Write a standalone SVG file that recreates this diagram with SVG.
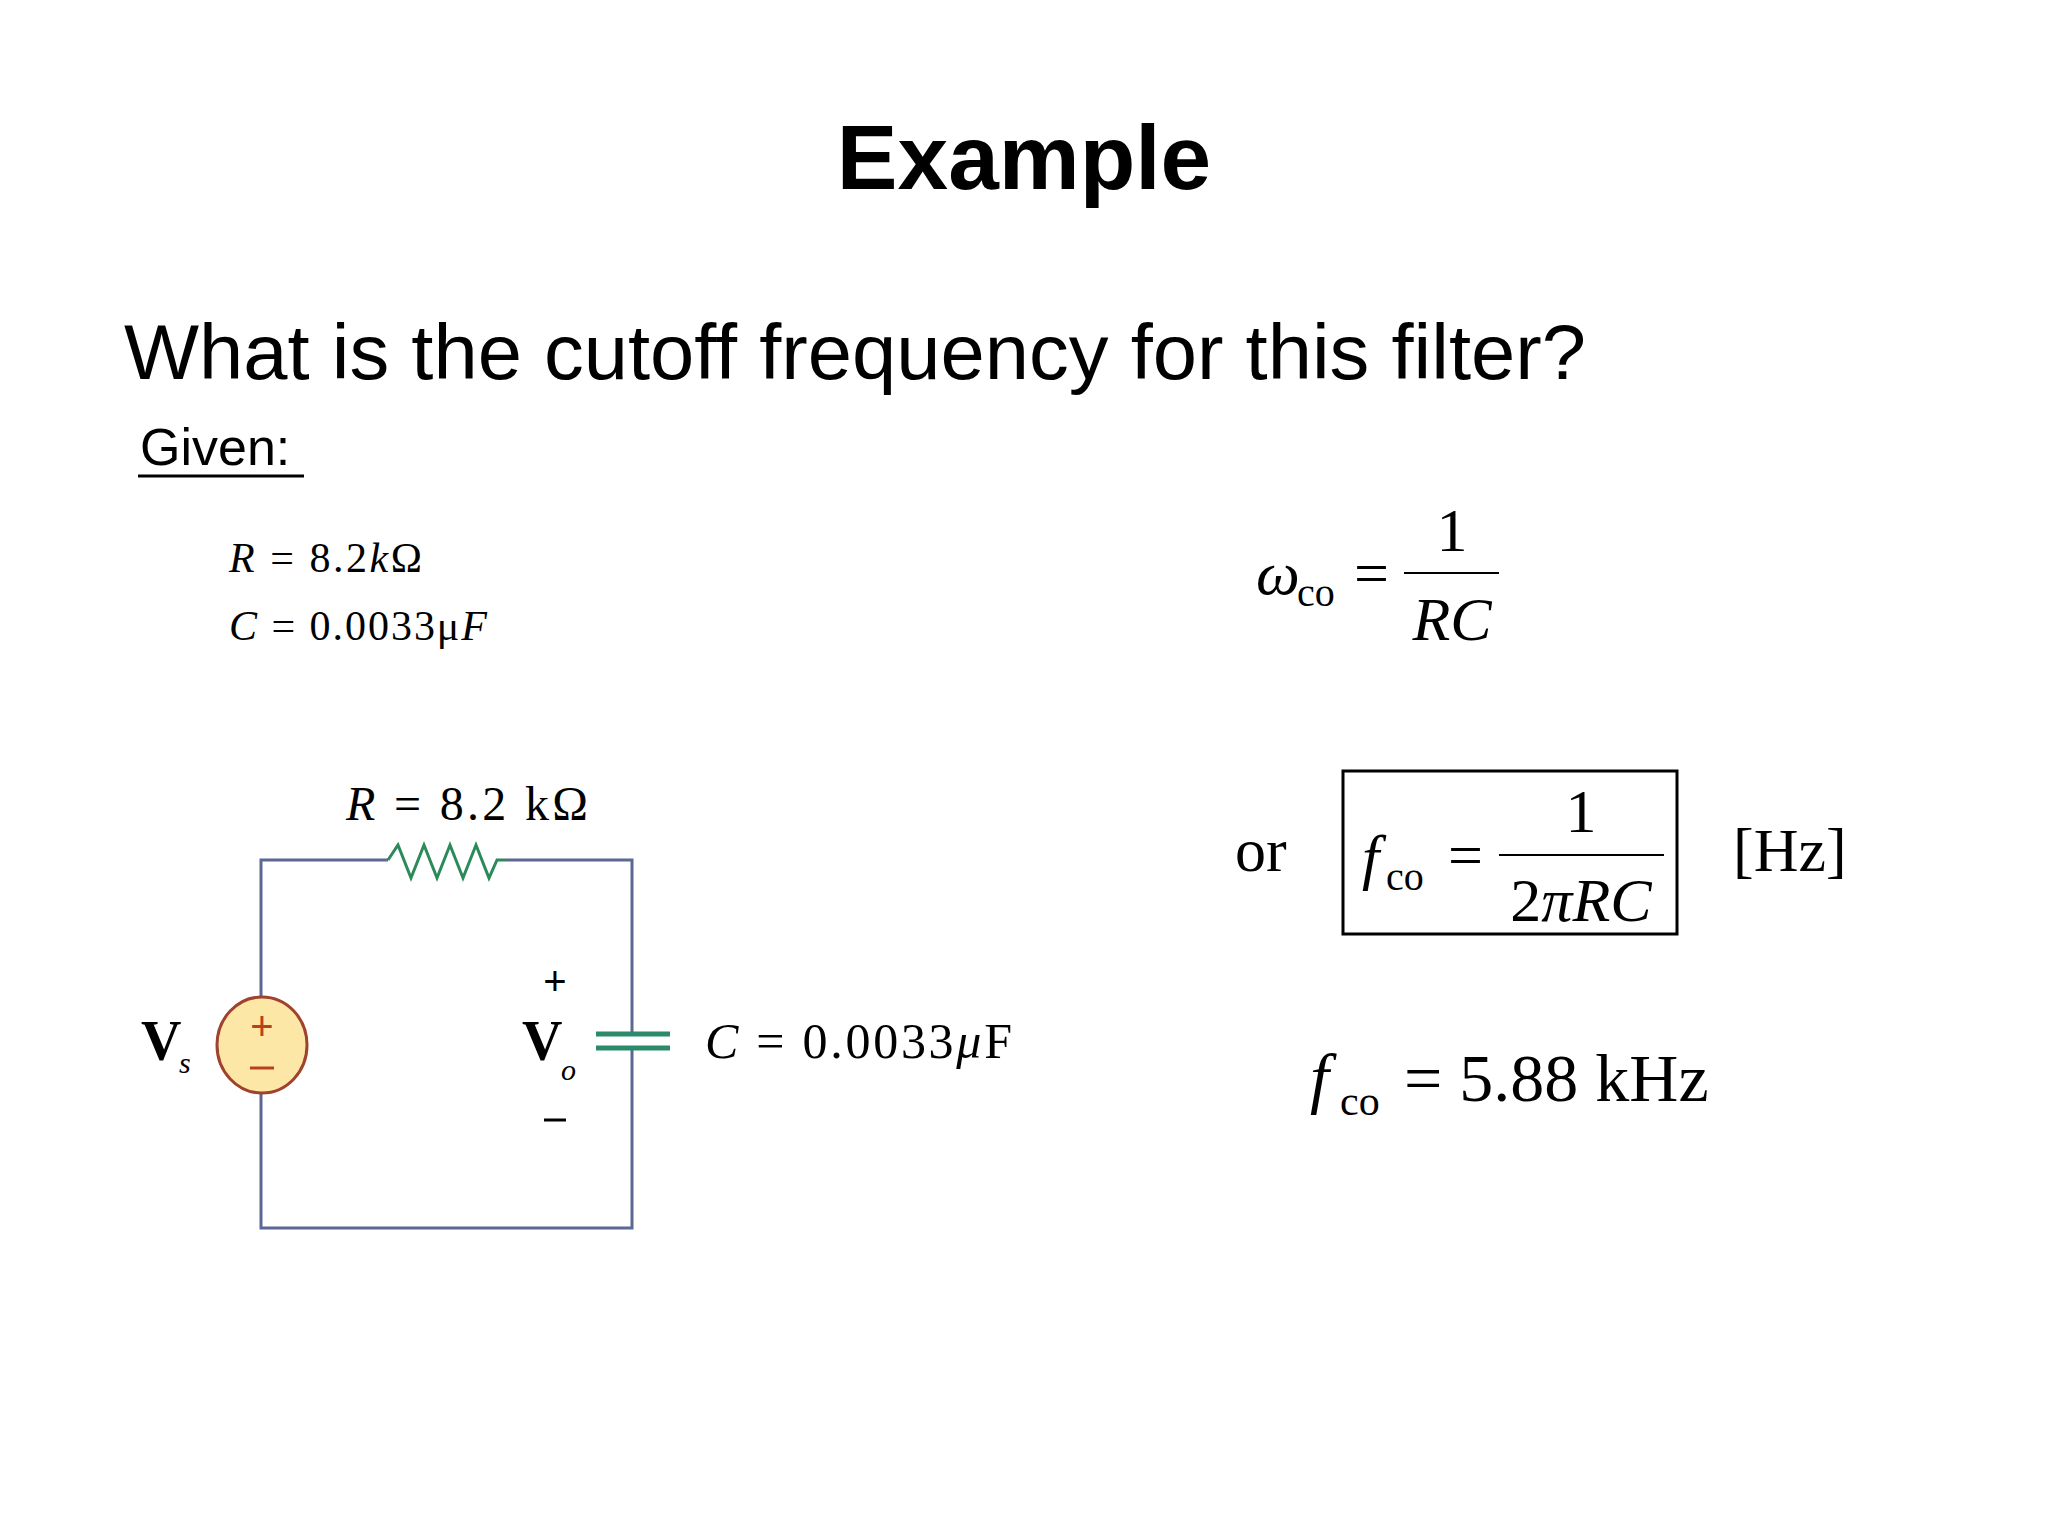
<svg xmlns="http://www.w3.org/2000/svg" width="2048" height="1536" viewBox="0 0 2048 1536">
<style>
.s{font-family:"Liberation Sans",Arial,sans-serif;fill:#000}
.m{font-family:"Liberation Serif","Times New Roman",serif;fill:#000}
.i{font-style:italic}
.w{stroke:#5b6896;stroke-width:3;fill:none}
</style>
<rect width="2048" height="1536" fill="#fff"/>
<text class="s" x="1024" y="189" font-size="91" font-weight="bold" text-anchor="middle">Example</text>
<text class="s" x="124" y="379" font-size="78" textLength="1462" lengthAdjust="spacingAndGlyphs">What is the cutoff frequency for this filter?</text>
<text class="s" x="140" y="465" font-size="52">Given:</text>
<line x1="138" y1="476" x2="304" y2="476" stroke="#000" stroke-width="3"/>
<text class="m" x="229" y="572" font-size="42" textLength="193"><tspan class="i">R</tspan> = 8.2<tspan class="i">k</tspan>Ω</text>
<text class="m" x="229" y="640" font-size="42" textLength="258"><tspan class="i">C</tspan> = 0.0033μ<tspan class="i">F</tspan></text>
<g id="eq1">
<text class="m i" x="1256" y="594" font-size="62">ω</text>
<text class="m" x="1297" y="606" font-size="40">co</text>
<text class="m" x="1354" y="594" font-size="62">=</text>
<text class="m" x="1452" y="551" font-size="62" text-anchor="middle">1</text>
<line x1="1404" y1="573" x2="1499" y2="573" stroke="#000" stroke-width="2"/>
<text class="m i" x="1452" y="640" font-size="62" text-anchor="middle">RC</text>
</g>
<g id="eq2">
<text class="m" x="1235" y="871" font-size="62">or</text>
<rect x="1343" y="771" width="334" height="163" fill="none" stroke="#000" stroke-width="3"/>
<text class="m i" x="1362" y="878" font-size="62">f</text>
<text class="m" x="1386" y="890" font-size="40">co</text>
<text class="m" x="1448" y="876" font-size="62">=</text>
<text class="m" x="1581" y="832" font-size="62" text-anchor="middle">1</text>
<line x1="1499" y1="855" x2="1664" y2="855" stroke="#000" stroke-width="2"/>
<text class="m" x="1581" y="921" font-size="62" text-anchor="middle">2<tspan class="i">πRC</tspan></text>
<text class="m" x="1733" y="871" font-size="62">[Hz]</text>
</g>
<g id="eq3">
<text class="m i" x="1310" y="1101" font-size="68">f</text>
<text class="m" x="1340" y="1115" font-size="42">co</text>
<text class="m" x="1404" y="1101" font-size="68">= 5.88 kHz</text>
</g>
<g id="connectors">
<polyline class="w" points="388,860 261,860 261,998"/>
<polyline class="w" points="261,1092 261,1228 632,1228 632,1048"/>
<polyline class="w" points="505,860 632,860 632,1034"/>
</g>
<g id="resistor">
<polyline points="388,860 398,845 411,878 424,845 437,878 450,845 463,878 476,845 489,878 497,860 505,860" fill="none" stroke="#2a8a5a" stroke-width="3"/>
<text class="m" x="346" y="820" font-size="48" textLength="242"><tspan class="i">R</tspan> = 8.2 kΩ</text>
</g>
<g id="source">
<ellipse cx="262" cy="1045" rx="45" ry="48" fill="#fde7a6" stroke="#a0422e" stroke-width="3"/>
<text class="s" x="262" y="1040" font-size="40" text-anchor="middle" style="fill:#b8401e">+</text>
<line x1="250" y1="1068" x2="274" y2="1068" stroke="#b8401e" stroke-width="3"/>
<text class="m" x="141" y="1060" font-size="56" font-weight="bold">V</text>
<text class="m i" x="179" y="1073" font-size="30">s</text>
</g>
<g id="capacitor">
<line x1="596" y1="1034" x2="670" y2="1034" stroke="#2a8a6a" stroke-width="5"/>
<line x1="596" y1="1048" x2="670" y2="1048" stroke="#2a8a6a" stroke-width="5"/>
<text class="m" x="705" y="1058" font-size="50" textLength="307"><tspan class="i">C</tspan> = 0.0033<tspan class="i">μ</tspan>F</text>
<text class="m" x="522" y="1060" font-size="56" font-weight="bold">V</text>
<text class="m i" x="561" y="1080" font-size="30">o</text>
<text class="s" x="555" y="995" font-size="40" text-anchor="middle">+</text>
<line x1="544" y1="1120" x2="566" y2="1120" stroke="#000" stroke-width="3"/>
</g>
</svg>
